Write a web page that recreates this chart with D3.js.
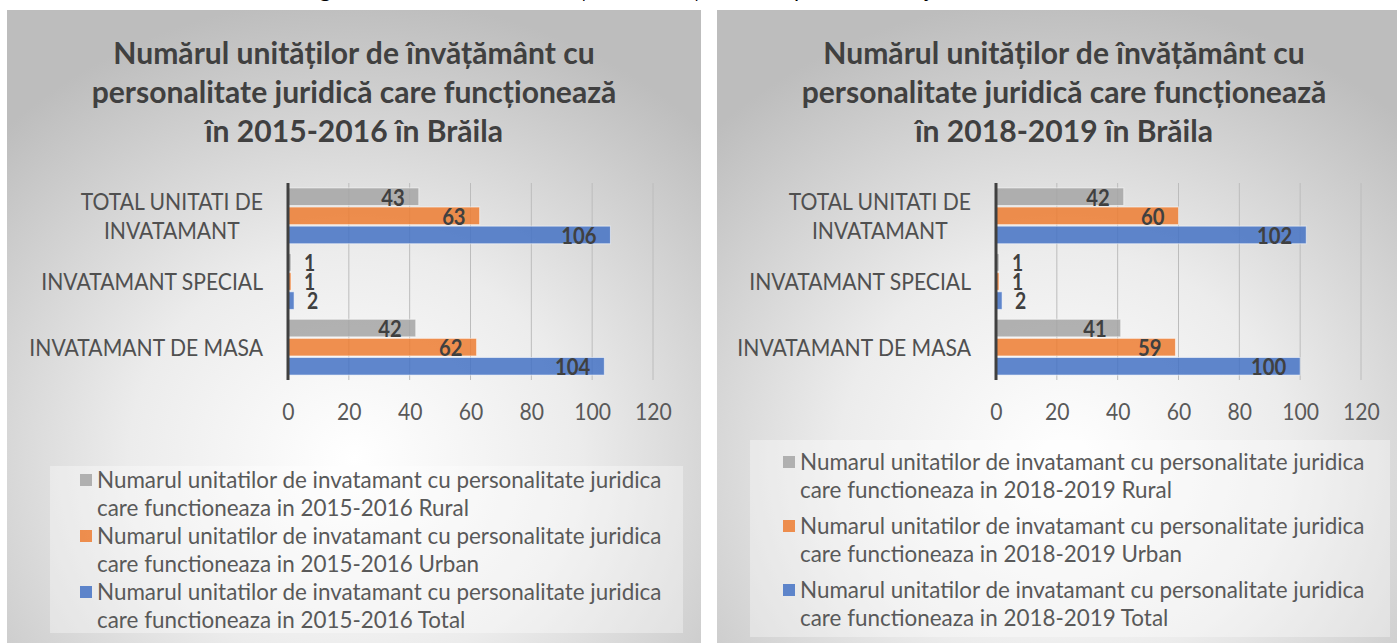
<!DOCTYPE html>
<html>
<head>
<meta charset="utf-8">
<script src="https://cdn.jsdelivr.net/npm/d3@7"></script>
<style>
  html, body { margin: 0; padding: 0; background: #fff; }
  svg text { font-family: Lato, "Open Sans", sans-serif; }
</style>
</head>
<body>
<svg id="chart" width="1397" height="643"></svg>
<script>
const categories = ['TOTAL UNITATI DE INVATAMANT', 'INVATAMANT SPECIAL', 'INVATAMANT DE MASA'];
const seriesKeys = ['Rural', 'Urban', 'Total'];
const seriesColors = ['#a5a5a5', '#ed7d31', '#4472c4'];
const xTicks = [0, 20, 40, 60, 80, 100, 120];

const rural2015 = [43, 1, 42];
const urban2015 = [63, 1, 62];
const total2015 = [106, 2, 104];

const rural2018 = [42, 1, 41];
const urban2018 = [60, 1, 59];
const total2018 = [102, 2, 100];

const title2015 = ['Numărul unităților de învățământ cu', 'personalitate juridică care funcționează', 'în 2015-2016 în Brăila'];
const title2018 = ['Numărul unităților de învățământ cu', 'personalitate juridică care funcționează', 'în 2018-2019 în Brăila'];
const legendPrefix = 'Numarul unitatilor de invatamant cu personalitate juridica care functioneaza in ';
const caption = 'Figura nr.12 – Numărul unităților de învățământ cu personalitate juridică în Brăila';

const svg = d3.select('#chart');
const defs = svg.append('defs');

const grad = defs.append('radialGradient')
    .attr('id', 'panelBg')
    .attr('cx', 0.5).attr('cy', 0.7).attr('r', 0.72);
grad.append('stop').attr('offset', 0).attr('stop-color', '#ffffff');
grad.append('stop').attr('offset', 0.45).attr('stop-color', '#ececec');
grad.append('stop').attr('offset', 1).attr('stop-color', '#bdbdbd');

// text with a narrower set width, closer to the Calibri look
function addText(g, str, x, y, size, opts = {}) {
    const t = g.append('text')
        .attr('x', x).attr('y', y)
        .attr('font-size', size)
        .attr('font-weight', opts.bold ? 700 : 400)
        .attr('fill', opts.fill || '#595959')
        .attr('text-anchor', opts.anchor || 'start')
        .attr('dy', '0.35em')
        .text(str);
    const w = t.node().getComputedTextLength();
    t.attr('textLength', w * (opts.squeeze || 0.88)).attr('lengthAdjust', 'spacingAndGlyphs');
    return t;
}

function textWidth(g, str, size, squeeze) {
    const t = g.append('text').attr('font-size', size).text(str);
    const w = t.node().getComputedTextLength() * squeeze;
    t.remove();
    return w;
}

function wrap(g, str, size, maxW, squeeze) {
    const words = str.split(' ');
    const lines = [];
    let line = '';
    words.forEach(word => {
        const test = line ? line + ' ' + word : word;
        if (line && textWidth(g, test, size, squeeze) > maxW) {
            lines.push(line);
            line = word;
        } else {
            line = test;
        }
    });
    lines.push(line);
    return lines;
}

svg.append('text')
    .attr('x', 690).attr('y', -3)
    .attr('text-anchor', 'middle')
    .attr('font-size', 22)
    .attr('fill', '#000')
    .text(caption);

function drawChart(cfg) {
    const g = svg.append('g');
    g.append('rect')
        .attr('x', cfg.left).attr('y', 10)
        .attr('width', 694).attr('height', 640)
        .attr('fill', 'url(#panelBg)');

    const center = cfg.left + 347;
    cfg.title.forEach((line, i) => {
        addText(g, line, center, 53 + i * 39, 31, { bold: true, anchor: 'middle', fill: '#404040', squeeze: 0.97 });
    });

    const x = d3.scaleLinear().domain([0, 120]).range([cfg.left + cfg.plotX, cfg.left + cfg.plotX + 365]);
    const y = d3.scaleBand().domain(categories).range([183, 380]).paddingInner(0.15).paddingOuter(0.075);
    const ySub = d3.scaleBand().domain(seriesKeys).range([0, y.bandwidth()]).paddingInner(0.08);

    // gridlines
    g.append('g')
        .selectAll('line')
        .data(xTicks.slice(1))
        .join('line')
        .attr('x1', d => x(d)).attr('x2', d => x(d))
        .attr('y1', 183).attr('y2', 380)
        .attr('stroke', '#bcbcbc')
        .attr('stroke-width', 1);

    // tick labels
    const axis = g.append('g')
        .attr('transform', 'translate(0,380)')
        .call(d3.axisBottom(x).tickValues(xTicks).tickSize(0).tickPadding(0));
    axis.select('.domain').remove();
    axis.selectAll('.tick text').remove();
    axis.selectAll('.tick').each(function (d) {
        addText(d3.select(this), d, 0, 32, 24, { anchor: 'middle' });
    });

    const rows = [];
    categories.forEach((c, ci) => {
        cfg.series.forEach((vals, si) => {
            rows.push({ cat: c, key: seriesKeys[si], value: vals[ci], color: seriesColors[si] });
        });
    });

    g.append('g')
        .selectAll('rect')
        .data(rows)
        .join('rect')
        .attr('x', x(0))
        .attr('y', d => y(d.cat) + ySub(d.key))
        .attr('width', d => x(d.value) - x(0))
        .attr('height', ySub.bandwidth())
        .attr('fill', d => d.color)
        .attr('fill-opacity', 0.85)
        .attr('stroke', 'rgba(255,255,255,0.55)')
        .attr('stroke-width', 1);

    const labels = g.append('g');
    rows.forEach(d => {
        const yy = y(d.cat) + ySub(d.key) + ySub.bandwidth() / 2 + 1;
        if (d.value < 10) {
            addText(labels, d.value, x(d.value) + 13, yy, 22, { bold: true, fill: '#404040' });
        } else {
            addText(labels, d.value, x(d.value) - 14, yy, 23, { bold: true, fill: '#404040', anchor: 'end' });
        }
    });

    // value axis line at zero
    g.append('line')
        .attr('x1', x(0)).attr('x2', x(0))
        .attr('y1', 183).attr('y2', 380)
        .attr('stroke', '#404040')
        .attr('stroke-width', 3);

    // category labels, wrapped and centred inside a right-aligned block
    const catRight = x(0) - 25;
    categories.forEach(c => {
        const lines = wrap(g, c, 24, 245, 0.88);
        const maxW = d3.max(lines, l => textWidth(g, l, 24, 0.88));
        const cy = y(c) + y.bandwidth() / 2;
        lines.forEach((l, i) => {
            addText(g, l, catRight - maxW / 2, cy + (i - (lines.length - 1) / 2) * 29, 24, { anchor: 'middle', fill: '#505050' });
        });
    });

    // legend
    const lg = g.append('g');
    lg.append('rect')
        .attr('x', cfg.left + cfg.legend.x).attr('y', cfg.legend.top)
        .attr('width', cfg.legend.w).attr('height', cfg.legend.h)
        .attr('fill', 'rgba(255,255,255,0.35)');
    seriesKeys.forEach((k, i) => {
        const ry = cfg.legend.firstRow + i * cfg.legend.step;
        lg.append('rect')
            .attr('x', cfg.left + cfg.legend.markX).attr('y', ry - 6)
            .attr('width', 12).attr('height', 12)
            .attr('fill', seriesColors[i])
            .attr('fill-opacity', 0.85);
        const lines = wrap(lg, legendPrefix + cfg.period + ' ' + k, 23, 580, 0.975);
        lines.forEach((l, j) => {
            addText(lg, l, cfg.left + cfg.legend.markX + 17, ry + j * 28, 23, { squeeze: 0.975 });
        });
    });
}

drawChart({
    left: 7,
    plotX: 281,
    title: title2015,
    period: '2015-2016',
    series: [rural2015, urban2015, total2015],
    legend: { x: 43, top: 466, w: 633, h: 167, firstRow: 480, step: 56, markX: 73 }
});

drawChart({
    left: 717,
    plotX: 279,
    title: title2018,
    period: '2018-2019',
    series: [rural2018, urban2018, total2018],
    legend: { x: 33, top: 440, w: 640, h: 197, firstRow: 462, step: 64, markX: 66 }
});
</script>
</body>
</html>
